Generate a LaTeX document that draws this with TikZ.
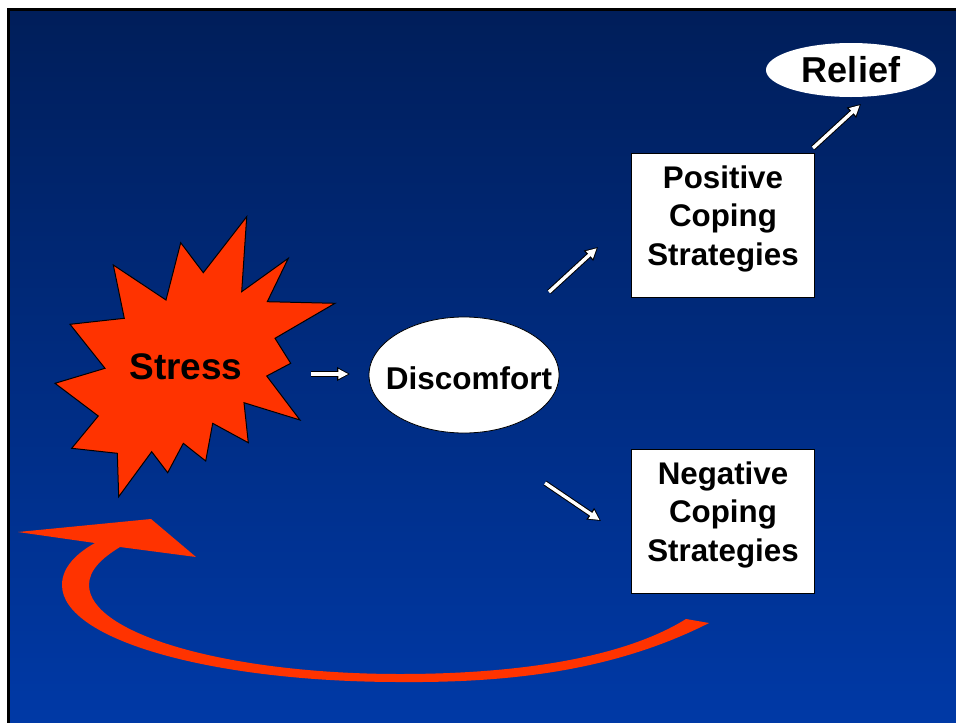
\documentclass[tikz,border=0pt]{standalone}
\usepackage{fontspec}
\setmainfont{Liberation Sans}
\usetikzlibrary{arrows.meta,shapes.geometric}
\definecolor{bgtop}{RGB}{0,30,90}
\definecolor{bgbot}{RGB}{0,57,166}
\definecolor{stressred}{RGB}{255,51,0}

\begin{document}
\begin{tikzpicture}[x=1pt,y=-1pt,
    lbl/.style={font=\bfseries\fontsize{31.3}{38.3}\selectfont,align=center,text depth=19pt},
    cbox/.style={draw=black,line width=0.8pt,fill=white,minimum width=183pt,minimum height=144pt,inner sep=0pt},
    oval/.style={ellipse,fill=white,inner sep=0pt},
    wharrow/.style={line width=5.4pt,black,-{Triangle[length=13pt,width=13pt]},
      postaction={draw=white,line width=3.4pt,shorten >=1.7pt,-{Triangle[length=10pt,width=9.5pt]}}}]
          \useasboundingbox (0,0) rectangle (956,723);
          \fill[black] (7,8) rectangle (956,723);
          \shade[top color=bgtop,bottom color=bgbot] (10,11) rectangle (956,723);
          % the stress burst
          \filldraw[fill=stressred,draw=black,line width=1pt]
            (246.7,216.7) -- (241.7,291.7) -- (288.3,258.3) -- (267.3,301.7) -- (335,303.3)
            -- (275,338.3) -- (290.7,363.3) -- (266.7,376) -- (300,420) -- (244,402.7)
            -- (248.3,442.7) -- (212.7,423.3) -- (205.7,461) -- (183.3,443.3) -- (167.7,472.7)
            -- (151.7,451.7) -- (118.7,496.7) -- (117.3,453.3) -- (71.7,448.3) -- (98.3,416)
            -- (55,383.3) -- (105,368.3) -- (70,324.3) -- (124.3,318.3) -- (113.3,265)
            -- (166,300) -- (180.7,242.7) -- (203.3,272.7) -- cycle;
          \node[font=\bfseries\fontsize{37}{44}\selectfont] (stress) at (186,367) {Stress};
          \node[oval,draw=black,line width=0.8pt,minimum width=190pt,minimum height=116pt,
            label={[font=\bfseries\fontsize{31.5}{38}\selectfont,xshift=5pt,yshift=-3pt]center:Discomfort}] (discomfort) at (464,375) {};
          \node[oval,minimum width=170pt,minimum height=54pt,
            label={[font=\bfseries\fontsize{36}{42}\selectfont]center:Relief}] (relief) at (851,70) {};
          \node[cbox,lbl] (positive) at (723,225) {Positive\\Coping\\Strategies};
          \node[cbox,lbl] (negative) at (723,521) {Negative\\Coping\\Strategies};
          % arrow ends
          \coordinate (s1) at (311,374); \coordinate (s2) at (350,374);
          \coordinate (p1) at (549,292); \coordinate (p2) at (598,247);
          \coordinate (n1) at (545,483); \coordinate (n2) at (601,521);
          \coordinate (r1) at (813,148); \coordinate (r2) at (861,104);
          \draw[wharrow] (s1) -- (s2);
          \draw[wharrow] (p1) -- (p2);
          \draw[wharrow] (n1) -- (n2);
          \draw[wharrow] (r1) -- (r2);
          % the way back to stress
          \fill[stressred] (709,623) .. controls (620,668) and (520,683) .. (400,682)
            .. controls (213,682) and (62,640) .. (62,585)
            .. controls (62,567) and (77,553) .. (95,543)
            -- (18,532) -- (151,519) -- (196,557) -- (120,547)
            .. controls (102,558) and (89,570) .. (89,585)
            .. controls (89,634) and (228,674) .. (400,674)
            .. controls (510,674) and (620,660) .. (686,619) -- cycle;
        \end{tikzpicture}
\end{document}
